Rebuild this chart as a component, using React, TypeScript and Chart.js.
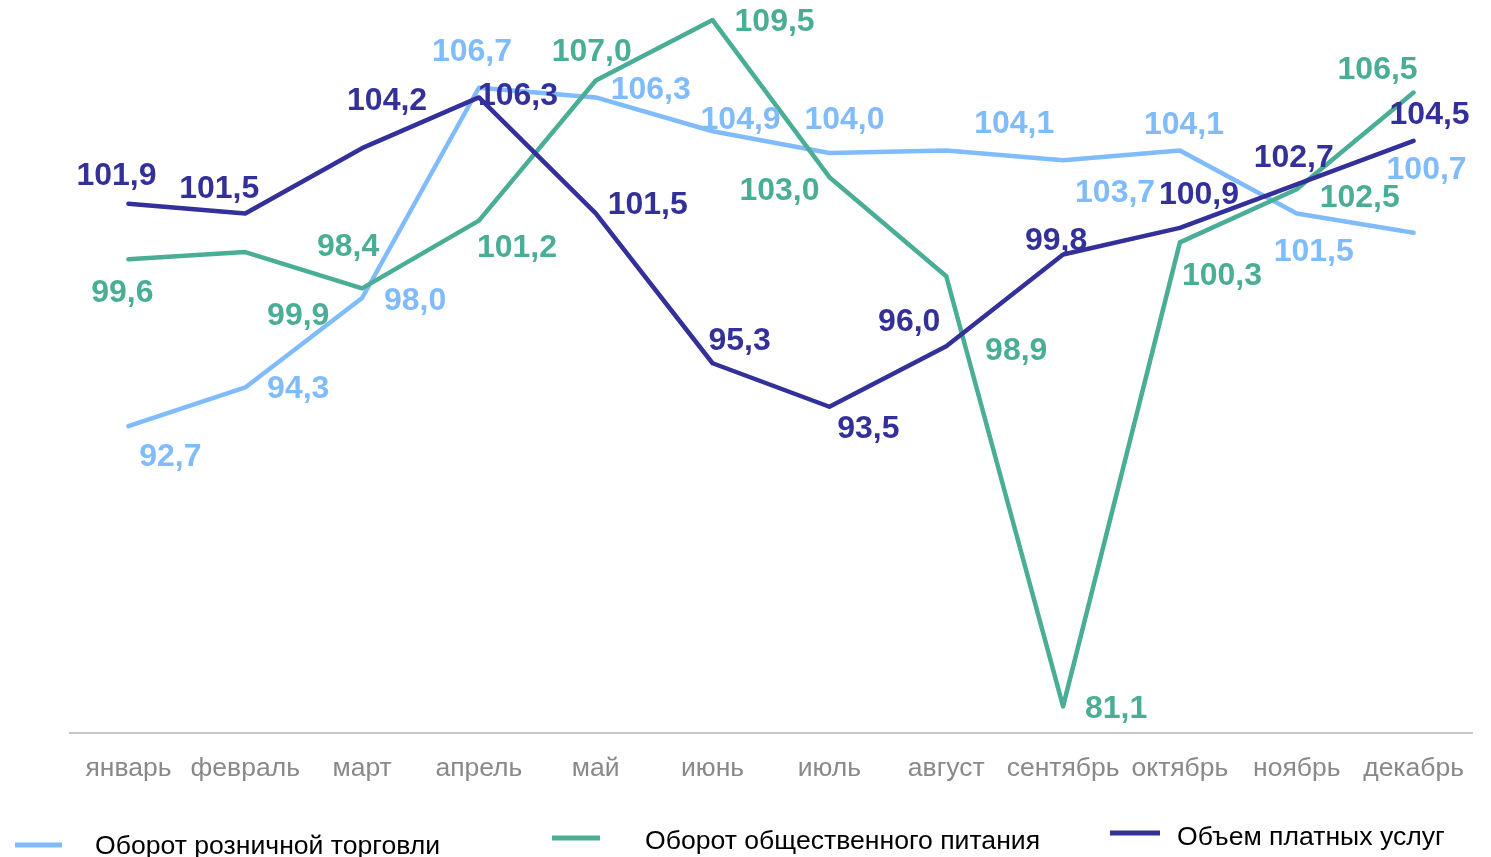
import React, { useEffect, useRef } from "react";
import { Chart, registerables } from "chart.js";

Chart.register(...registerables);

const months = [
  "январь", "февраль", "март", "апрель", "май", "июнь",
  "июль", "август", "сентябрь", "октябрь", "ноябрь", "декабрь",
];

const seriesNames = [
  "Оборот розничной торговли",
  "Оборот общественного питания",
  "Объем платных услуг",
];

const retail = [92.7, 94.3, 98.0, 106.7, 106.3, 104.9, 104.0, 104.1, 103.7, 104.1, 101.5, 100.7];
const catering = [99.6, 99.9, 98.4, 101.2, 107.0, 109.5, 103.0, 98.9, 81.1, 100.3, 102.5, 106.5];
const services = [101.9, 101.5, 104.2, 106.3, 101.5, 95.3, 93.5, 96.0, 99.8, 100.9, 102.7, 104.5];

const COLORS = ["#80bbfb", "#4aad95", "#333099"];

// label offsets (dx, dy) from each point, in px
const retailLabelOffsets: [number, number][] = [
  [42, 31], [53, 2], [53, 3], [-7, -36], [55, -7], [28, -11],
  [15, -33], [68, -26], [52, 33], [4, -25], [17, 39], [13, -63],
];
const cateringLabelOffsets: [number, number][] = [
  [-6, 34], [53, 64], [-14, -41], [38, 28], [-4, -28], [62, 2],
  [-50, 14], [70, 75], [53, 3], [42, 34], [63, 9], [-36, -22],
];
const servicesLabelOffsets: [number, number][] = [
  [-12, -28], [-26, -24], [25, -47], [39, -1], [52, -8], [27, -22],
  [39, 22], [-37, -24], [-7, -13], [19, -33], [-3, -26], [16, -26],
];

const FONT = "'Liberation Sans', Arial, sans-serif";

const fmt = (v: number) => v.toFixed(1).replace(".", ",");

export default function App() {
  const ref = useRef<HTMLCanvasElement | null>(null);

  useEffect(() => {
    if (!ref.current) return;
    const offsets = [retailLabelOffsets, cateringLabelOffsets, servicesLabelOffsets];

    const labelPlugin = {
      id: "valueLabels",
      afterDatasetsDraw(chart: any) {
        const ctx = chart.ctx;
        ctx.save();
        ctx.font = `bold 32px ${FONT}`;
        ctx.textAlign = "center";
        ctx.textBaseline = "middle";
        chart.data.datasets.forEach((ds: any, i: number) => {
          const meta = chart.getDatasetMeta(i);
          ctx.fillStyle = COLORS[i];
          meta.data.forEach((pt: any, j: number) => {
            const [dx, dy] = offsets[i][j];
            ctx.fillText(fmt(ds.data[j]), pt.x + dx, pt.y + dy);
          });
        });
        ctx.restore();
      },
    };

    const legendPlugin = {
      id: "customLegend",
      afterDraw(chart: any) {
        const ctx = chart.ctx;
        const items = [
          { x1: 15, x2: 62, ly: 845, tx: 95, ty: 847 },
          { x1: 552, x2: 600, ly: 838, tx: 645, ty: 842 },
          { x1: 1110, x2: 1160, ly: 833, tx: 1177, ty: 838 },
        ];
        ctx.save();
        ctx.font = `26.6px ${FONT}`;
        ctx.textBaseline = "middle";
        ctx.textAlign = "left";
        items.forEach((it, i) => {
          ctx.strokeStyle = COLORS[i];
          ctx.lineWidth = 5;
          ctx.beginPath();
          ctx.moveTo(it.x1, it.ly);
          ctx.lineTo(it.x2, it.ly);
          ctx.stroke();
          ctx.fillStyle = "#000000";
          ctx.fillText(chart.data.datasets[i].label, it.tx, it.ty);
        });
        ctx.restore();
      },
    };

    const mk = (label: string, data: number[], color: string, order: number) => ({
      label,
      data,
      borderColor: color,
      backgroundColor: color,
      borderWidth: 4.5,
      pointRadius: 0,
      pointHoverRadius: 0,
      tension: 0,
      fill: false,
      borderCapStyle: "round" as const,
      borderJoinStyle: "round" as const,
      order,
    });

    const chart = new Chart(ref.current, {
      type: "line",
      data: {
        labels: months,
        datasets: [
          mk(seriesNames[0], retail, COLORS[0], 2),
          mk(seriesNames[1], catering, COLORS[1], 1),
          mk(seriesNames[2], services, COLORS[2], 0),
        ],
      },
      options: {
        animation: false,
        responsive: false,
        devicePixelRatio: 1,
        layout: { padding: { left: 70, right: 19, top: 8, bottom: 0 } },
        plugins: {
          legend: { display: false },
          tooltip: { enabled: false },
        },
        scales: {
          x: {
            type: "category",
            offset: true,
            grid: { display: false, drawTicks: false },
            border: { display: true, color: "#c8c8c8", width: 2 },
            ticks: {
              color: "#898989",
              font: { family: FONT, size: 26.5 },
              padding: 19.5,
              autoSkip: false,
              maxRotation: 0,
              minRotation: 0,
            },
            afterFit: (s: any) => {
              s.height = 124;
            },
          },
          y: {
            display: false,
            min: 80,
            max: 110,
          },
        },
      },
      plugins: [labelPlugin, legendPlugin],
    });
    return () => chart.destroy();
  }, []);

  return (
    <div style={{ position: "fixed", left: 0, top: 0, width: 1491, height: 857, background: "#fff" }}>
      <canvas ref={ref} width={1491} height={857} style={{ display: "block" }} />
    </div>
  );
}
